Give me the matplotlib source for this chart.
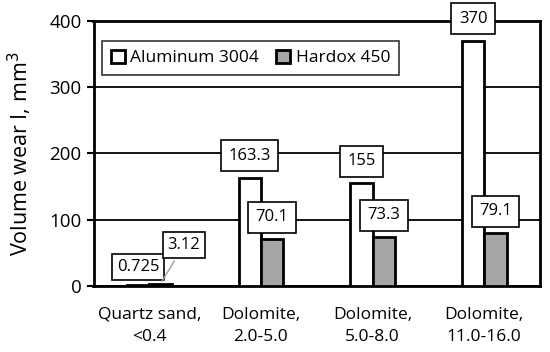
import matplotlib.pyplot as plt
import numpy as np

plt.rcParams['font.family'] = ['Open Sans', 'DejaVu Sans']

categories = ['Quartz sand,\n<0.4', 'Dolomite,\n2.0-5.0', 'Dolomite,\n5.0-8.0', 'Dolomite,\n11.0-16.0']
aluminum = [0.725, 163.3, 155, 370]
hardox = [3.12, 70.1, 73.3, 79.1]
alu_labels = ['0.725', '163.3', '155', '370']
hardox_labels = ['3.12', '70.1', '73.3', '79.1']

fig, ax = plt.subplots(figsize=(5.5, 3.52), dpi=100)
fig.subplots_adjust(left=0.17, right=0.982, top=0.94, bottom=0.188)

x = np.arange(len(categories))
w = 0.2
ax.bar(x - w / 2, aluminum, w, color='white', edgecolor='black', linewidth=2,
       label='Aluminum 3004', zorder=3)
ax.bar(x + w / 2, hardox, w, color='#a6a6a6', edgecolor='black', linewidth=2,
       label='Hardox 450', zorder=3)

box = dict(boxstyle='square,pad=0.45', fc='white', ec='black', lw=1.2)
small_box = dict(boxstyle='square,pad=0.3', fc='white', ec='black', lw=1.2)
for i in range(len(categories)):
    if i == 0:
        ax.annotate(alu_labels[i], (x[i] - w / 2, aluminum[i]), xytext=(0, 13),
                    textcoords='offset points', ha='center', va='center',
                    fontsize=12, bbox=small_box, zorder=5)
        ax.annotate(hardox_labels[i], (x[i] + w / 2, hardox[i]), xytext=(17, 28),
                    textcoords='offset points', ha='center', va='center',
                    fontsize=12, bbox=small_box, zorder=5,
                    arrowprops=dict(arrowstyle='-', color='#a0a0a0', lw=1))
    else:
        ax.annotate(alu_labels[i], (x[i] - w / 2, aluminum[i]), xytext=(0, 16),
                    textcoords='offset points', ha='center', va='center',
                    fontsize=12, bbox=box, zorder=5)
        ax.annotate(hardox_labels[i], (x[i] + w / 2, hardox[i]), xytext=(0, 16),
                    textcoords='offset points', ha='center', va='center',
                    fontsize=12, bbox=box, zorder=5)

ax.set_xlim(-0.5, 3.5)
ax.set_ylim(0, 400)
ax.set_yticks([0, 100, 200, 300, 400])
ax.set_xticks(x)
ax.set_xticklabels(categories, fontsize=12.5, linespacing=1.5)
ax.tick_params(axis='y', labelsize=13.5, length=5, width=1.5)
ax.tick_params(axis='x', length=0, pad=15)
ax.yaxis.grid(True, color='black', linewidth=1.3, zorder=0)
for s in ax.spines.values():
    s.set_linewidth(2)
ax.set_ylabel('Volume wear I, mm$^3$', fontsize=15.5, labelpad=11)

leg = ax.legend(loc='upper left', ncol=2, fontsize=12.5, frameon=True, fancybox=False,
                edgecolor='black', handlelength=0.8, handleheight=0.8,
                handletextpad=0.3, columnspacing=1.0, borderpad=0.5,
                borderaxespad=0, bbox_to_anchor=(0.02, 0.925))
leg.get_frame().set_linewidth(1.2)
leg.set_zorder(6)

fig.savefig('out.png')
